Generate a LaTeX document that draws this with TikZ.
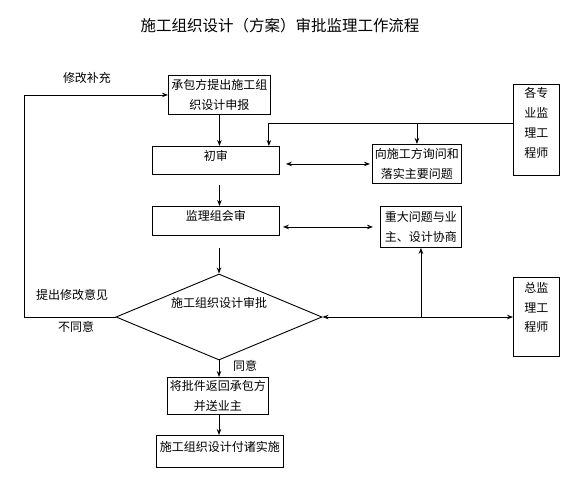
\documentclass[tikz,border=0pt]{standalone}
\usepackage{fontspec}
\setmainfont{Noto Sans CJK SC}
\usetikzlibrary{shapes.geometric,arrows.meta}

\begin{document}
\begin{tikzpicture}[x=1pt, y=-1pt, line width=0.9pt, >={Stealth[length=6pt,width=4.5pt]}, font=\fontsize{12}{20}\selectfont]
      \tikzset{
	  process/.style={rectangle, draw=black, inner sep=0pt, align=center, anchor=north west},
	  topbox/.style={process, text height=14pt, text depth=14pt},
	  sidebox/.style={rectangle, draw=black, inner sep=0pt, anchor=north west, minimum width=46pt},
	  decision/.style={diamond, draw=black, inner sep=0pt, aspect=2.37, minimum width=206pt, minimum height=86pt, text height=11pt, text depth=29.6pt},
	  mylabel/.style={inner sep=0pt, align=center}
      }
      \useasboundingbox (0,0) rectangle (579,482);

      \node[mylabel, font=\fontsize{15.5}{18}\selectfont] (title) at (280,26) {施工组织设计（方案）审批监理工作流程};

      \node[process, minimum width=102pt, minimum height=39pt] (shenbao) at (168,75) {承包方提出施工组\\织设计申报};
      \node[topbox, minimum width=127pt, minimum height=28pt] (chushen) at (152,146) {初审};
      \node[topbox, minimum width=127pt, minimum height=29pt] (huishen) at (152,206) {监理组会审};
      \node[process, minimum width=89pt, minimum height=39pt] (xunwen) at (372,144) {向施工方询问和\\落实主要问题};
      \node[process, minimum width=81pt, minimum height=41pt] (xieshang) at (380,206) {重大问题与业\\主、设计协商};
      \node[decision] (shenpi) at (219,317) {施工组织设计审批};
      \node[process, minimum width=101pt, minimum height=37pt] (fanhui) at (167,377) {将批件返回承包方\\并送业主};
      \node[topbox, minimum width=127pt, minimum height=32pt] (shishi) at (156,435) {施工组织设计付诸实施};

      \node[sidebox, minimum height=91pt] (zhuanye) at (513,84) {};
      \node[mylabel, anchor=north] (zhuanyetext) at ([yshift=-3pt]zhuanye.north) {各专\\业监\\理工\\程师};
      \node[sidebox, minimum height=79pt] (zongjian) at (513,277) {};
      \node[mylabel, anchor=north, font=\fontsize{12}{19.5}\selectfont] (zongjiantext) at ([yshift=-5pt]zongjian.north) {总监\\理工\\程师};

      \node[mylabel] (xiugai) at (87,78) {修改补充};
      \node[mylabel] (tichu) at (72,295) {提出修改意见};
      \node[mylabel] (butongyi) at (76,327) {不同意};
      \node[mylabel] (tongyi) at (245,366) {同意};

      \coordinate (zy) at (513,123);
      \coordinate (zuo) at (24,317);

      \draw[->] (shenbao.south) -- (shenbao.south |- chushen.north);
      \draw[->] (zy) -| ([xshift=-11pt]chushen.north east);
      \draw[->] (zy -| xunwen.north) -- (xunwen.north);
      \draw[<->, shorten <=6pt, shorten >=2pt] (xunwen.west -| chushen.east) -- (xunwen.west);
      \draw[->, shorten <=10pt] (shenbao.south |- chushen.south) -- (shenbao.south |- huishen.north);
      \draw[<->, shorten <=3pt, shorten >=7pt] (xieshang.west -| huishen.east) -- (xieshang.west);
      \draw[->, shorten <=12pt] (shenpi.north |- huishen.south) -- (shenpi.north);
      \draw[<->] (shenpi.east) -- (shenpi.east -| zongjian.west);
      \draw[->] (shenpi.east -| xieshang.south) -- (xieshang.south);
      \draw[->] (shenpi.west) -- (zuo) |- (shenbao.west);
      \draw[->] (shenpi.south) -- (shenpi.south |- fanhui.north);
      \draw[->] (shenpi.south |- fanhui.south) -- (shenpi.south |- shishi.north);
\end{tikzpicture}
\end{document}
